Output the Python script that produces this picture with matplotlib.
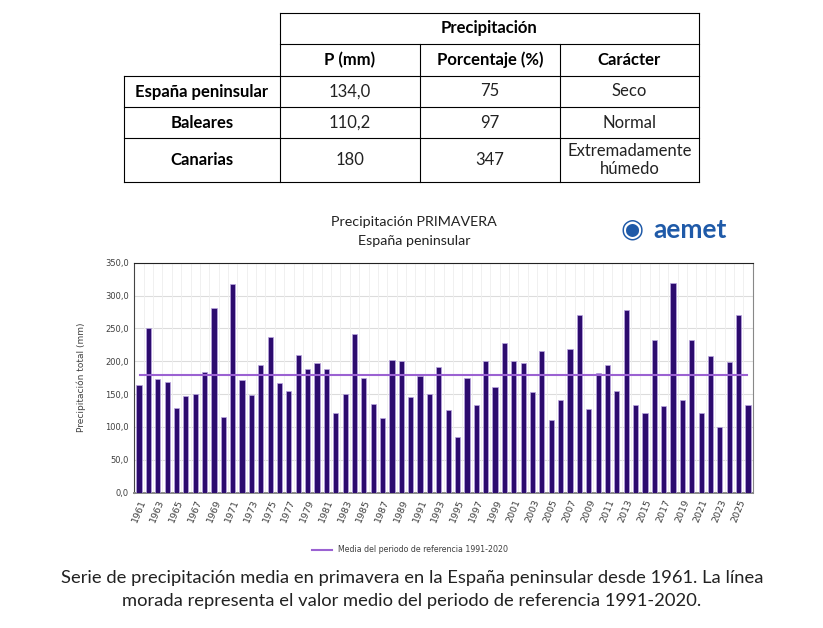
"""
Precipitacion de primavera en la Espana peninsular (1961-2026), con tabla resumen.
"""
import matplotlib
matplotlib.use("Agg")
import matplotlib.pyplot as plt
from matplotlib.lines import Line2D
import numpy as np

W, H = 823, 628

# --- datos -----------------------------------------------------------------
YEARS = list(range(1961, 2027))
PRECIP = [
    163.5, 250.0, 172.5, 168.5, 128.5, 147.0, 150.5, 184.0, 281.0, 115.5,
    317.5, 171.5, 148.0, 194.0, 237.0, 167.5, 155.5, 210.0, 188.0, 197.0,
    188.0, 122.0, 150.5, 241.0, 174.0, 135.0, 114.0, 202.0, 200.0, 145.5,
    178.0, 150.0, 192.0, 126.0, 85.5, 174.0, 133.0, 200.0, 161.0, 228.0,
    201.0, 197.0, 153.0, 215.5, 110.5, 141.5, 219.0, 271.0, 127.5, 182.0,
    194.0, 155.5, 277.5, 133.5, 122.0, 233.0, 131.5, 319.0, 141.5, 233.0,
    122.0, 207.5, 100.0, 198.5, 271.0, 134.0,
]
REF_MEAN = 179.0
Y_TICKS = [0, 50, 100, 150, 200, 250, 300, 350]

REGIONS = ["España peninsular", "Baleares", "Canarias"]
P_MM = ["134,0", "110,2", "180"]
PCT = ["75", "97", "347"]
CHARACTER = ["Seco", "Normal", "Extremadamente\nhúmedo"]
COL_HEADERS = ["P (mm)", "Porcentaje (%)", "Carácter"]

BAR_COLOR = "#2C0B6E"
MEAN_COLOR = "#9B62D2"
TXT_FONT = ["Lato", "DejaVu Sans"]


def fx(px):
    return px / W


def fy(py):
    return 1 - py / H


fig = plt.figure(figsize=(W / 100, H / 100), dpi=100)
fig.patch.set_facecolor("white")

# --- tabla -----------------------------------------------------------------
def hline(y, x0, x1):
    fig.add_artist(Line2D([fx(x0), fx(x1)], [fy(y), fy(y)], color="black", lw=0.8))


def vline(x, y0, y1):
    fig.add_artist(Line2D([fx(x), fx(x)], [fy(y0), fy(y1)], color="black", lw=0.8))


col_x = [124, 280, 420, 560, 699]
row_y = [13, 44, 76, 107, 138, 182]
hline(row_y[0], col_x[1], col_x[4])
hline(row_y[1], col_x[1], col_x[4])
for y in row_y[2:]:
    hline(y, col_x[0], col_x[4])
vline(col_x[0], row_y[2], row_y[5])
vline(col_x[1], row_y[0], row_y[5])
vline(col_x[2], row_y[1], row_y[5])
vline(col_x[3], row_y[1], row_y[5])
vline(col_x[4], row_y[0], row_y[5])

fs_tab = 12
fig.text(fx((col_x[1] + col_x[4]) / 2), fy((row_y[0] + row_y[1]) / 2), "Precipitación",
         ha="center", va="center", fontsize=fs_tab, fontweight="bold", family=TXT_FONT)
for i, hdr in enumerate(COL_HEADERS):
    fig.text(fx((col_x[i + 1] + col_x[i + 2]) / 2), fy((row_y[1] + row_y[2]) / 2), hdr,
             ha="center", va="center", fontsize=fs_tab, fontweight="bold", family=TXT_FONT)
for r in range(len(REGIONS)):
    yc = fy((row_y[r + 2] + row_y[r + 3]) / 2)
    fig.text(fx((col_x[0] + col_x[1]) / 2), yc, REGIONS[r],
             ha="center", va="center", fontsize=fs_tab, fontweight="bold", family=TXT_FONT)
    for c, vals in enumerate([P_MM, PCT, CHARACTER]):
        fig.text(fx((col_x[c + 1] + col_x[c + 2]) / 2), yc, vals[r],
                 ha="center", va="center", fontsize=fs_tab, family=TXT_FONT,
                 color="#222222", linespacing=1.2)

# --- titulo y logo ---------------------------------------------------------
fig.text(fx(414), fy(222), "Precipitación PRIMAVERA", ha="center", va="center",
         fontsize=10.3, family=TXT_FONT, color="#222222")
fig.text(fx(414), fy(241), "España peninsular", ha="center", va="center",
         fontsize=10.3, family=TXT_FONT, color="#222222")
fig.text(fx(620), fy(230), "\u25C9", ha="left", va="center", fontsize=19,
         color="#1F5AA8", family="DejaVu Sans")
fig.text(fx(653), fy(230), "aemet", ha="left", va="center", fontsize=19,
         fontweight="bold", color="#1F5AA8", family=TXT_FONT)

# --- grafico ---------------------------------------------------------------
ax_l, ax_r, ax_t, ax_b = 134.3, 752.7, 262.7, 492.7
ax = fig.add_axes([fx(ax_l), fy(ax_b), fx(ax_r - ax_l), (ax_b - ax_t) / H])

x = np.arange(len(YEARS))
ax.bar(x, PRECIP, width=0.55, color=BAR_COLOR, edgecolor="#B9A6E0", linewidth=0.5, zorder=3)
ax.axhline(REF_MEAN, xmin=0.01, xmax=0.99, color=MEAN_COLOR, lw=1.5, zorder=4,
           label="Media del periodo de referencia 1991-2020")

ax.set_xlim(-0.5, len(YEARS) - 0.5)
ax.set_ylim(0, 350)
ax.set_yticks(Y_TICKS)
ax.set_yticklabels([f"{v:.1f}".replace(".", ",") for v in Y_TICKS], fontsize=6, color="#404040")
ax.set_xticks(x[::2])
ax.set_xticklabels([str(y) for y in YEARS[::2]], rotation=68, ha="right", va="top",
                   rotation_mode="anchor", fontsize=6.8, color="#404040")
ax.tick_params(axis="both", length=0, pad=4)
ax.set_ylabel("Precipitación total (mm)", fontsize=6.5, color="#404040", labelpad=14)

for v in Y_TICKS[1:]:
    ax.axhline(v, color="#DCDCDC", lw=0.8, zorder=1)
for b in np.arange(0.5, len(YEARS) - 0.5, 1.0):
    ax.axvline(b, color="#EEEEEE", lw=0.6, zorder=1)

ax.spines["top"].set_color("#222222")
ax.spines["left"].set_color("#444444")
ax.spines["right"].set_color("#888888")
ax.spines["bottom"].set_color("#888888")
ax.spines["bottom"].set_linewidth(1.4)
for s in ["top", "left", "right"]:
    ax.spines[s].set_linewidth(0.8)

ax.legend(loc="center", bbox_to_anchor=(fx(410), fy(550)), bbox_transform=fig.transFigure,
          frameon=False, fontsize=5.7, handlelength=2.6, labelcolor="#404040")

# --- pie -------------------------------------------------------------------
fig.text(fx(412), fy(578), "Serie de precipitación media en primavera en la España peninsular "
         "desde 1961. La línea", ha="center", va="center", fontsize=13.2, family=TXT_FONT,
         color="#222222")
fig.text(fx(412), fy(601), "morada representa el valor medio del periodo de referencia 1991-2020.",
         ha="center", va="center", fontsize=13.2, family=TXT_FONT, color="#222222")

fig.savefig("out.png", dpi=100, facecolor="white")
